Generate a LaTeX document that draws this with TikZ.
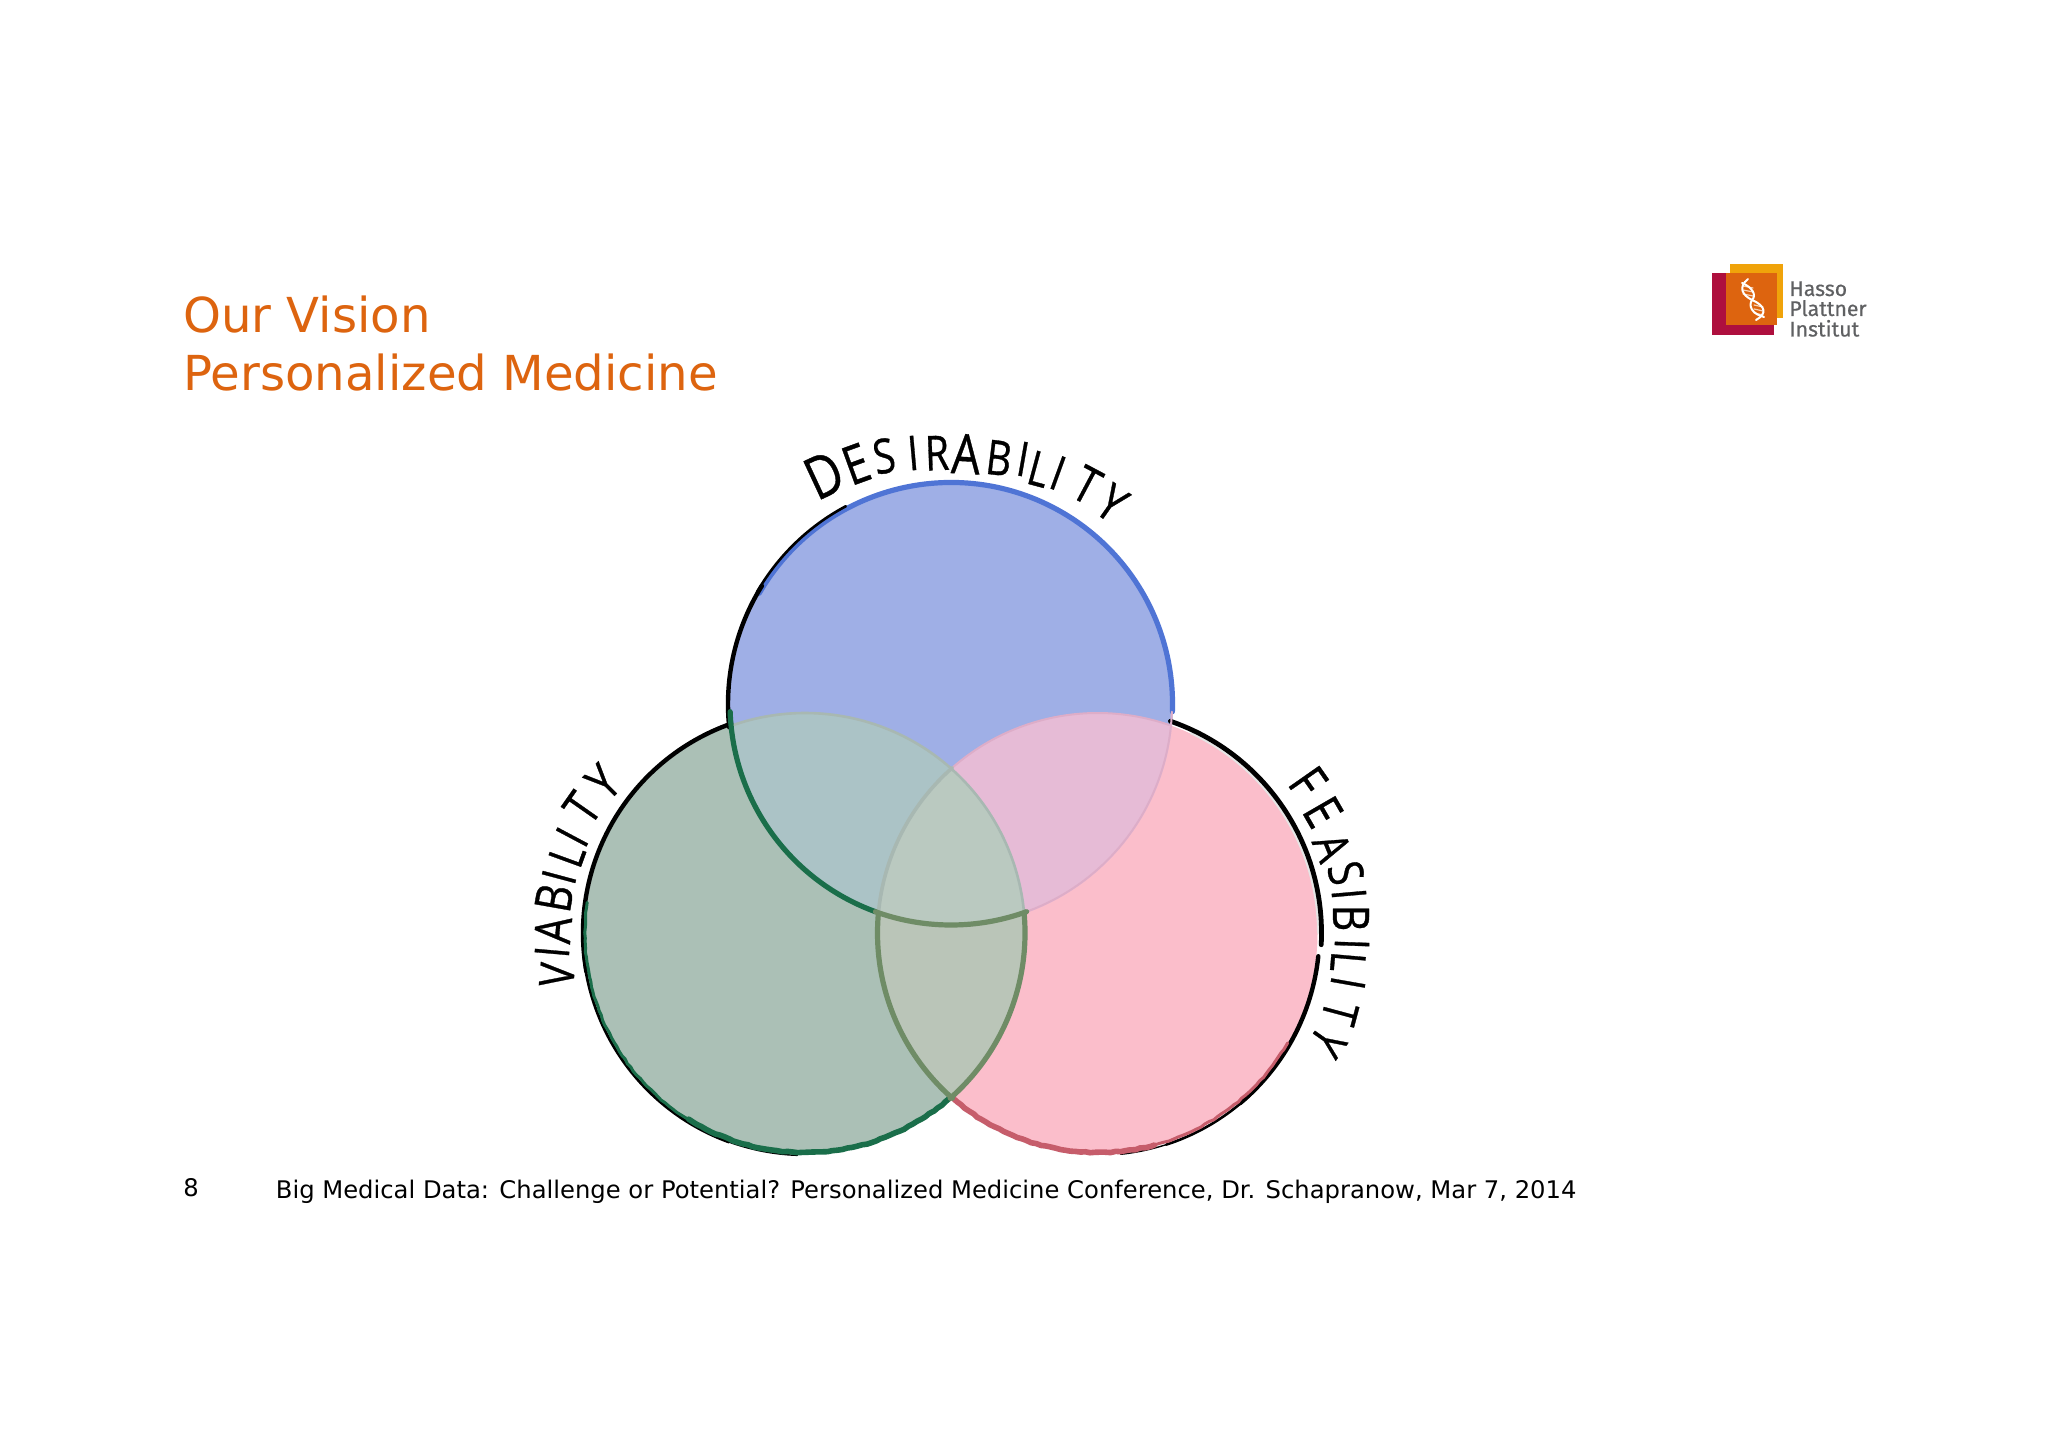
\documentclass[tikz,border=0pt]{standalone}
\usepackage{fontspec}
\usetikzlibrary{decorations.pathmorphing}
\setmainfont{DejaVu Sans}
\newfontfamily\handfont[FakeBold=0.7]{Open Sans}
\newfontfamily\logofont[FakeBold=0.5]{Fira Sans}
\definecolor{titleor}{HTML}{DD640F}
\definecolor{fillB}{HTML}{9FAFE6}
\definecolor{fillG}{HTML}{ABC0B6}
\definecolor{fillP}{HTML}{FBBECB}
\definecolor{fillBG}{HTML}{ABC3C6}
\definecolor{fillBP}{HTML}{E6BBD6}
\definecolor{fillGP}{HTML}{BAC5B8}
\definecolor{fillBGP}{HTML}{BAC9C0}
\definecolor{strokeB}{HTML}{4F74D5}
\definecolor{strokeG}{HTML}{1A6E4A}
\definecolor{strokeP}{HTML}{C65D6B}
\definecolor{olive}{HTML}{6F8C66}
\definecolor{softgray}{HTML}{A8B8B2}
\definecolor{softpink}{HTML}{DDADC8}
\definecolor{logogray}{HTML}{5F6062}
\definecolor{logoyellow}{HTML}{F0A30A}
\definecolor{logored}{HTML}{AE0F3E}
\definecolor{rungcol}{HTML}{F6D3B5}
\tikzset{
  x=0.5pt,y=0.5pt,
  titletext/.style={anchor=base west,inner sep=0pt,text=titleor,font=\fontsize{24.1}{28}\selectfont},
  foottext/.style={anchor=base west,inner sep=0pt,text=black,font=\fontsize{12.13}{14}\selectfont},
  hand/.style={xscale=0.82,inner sep=0pt,text=black,font=\handfont\fontsize{24}{26}\selectfont},
  logotext/.style={anchor=base west,inner sep=0pt,text=logogray,font=\logofont\fontsize{10.6}{12}\selectfont},
  ringedge/.style={line width=2.6pt,line cap=round},
  thinedge/.style={line width=1pt,line cap=round},
  rough/.style={decorate,decoration={random steps,segment length=2.5pt,amplitude=0.25pt}},
  helix/.style={draw=white,line width=1pt,line cap=round},
}
\newcommand{\carc}[5]{\draw[#1] ([shift={(#3:#5)}]#2) arc[start angle=#3,end angle=#4,radius=#5];}
\newcommand{\hw}[5]{\node[rotate=#4,hand] (#1) at ({#2},{1447-#3}) {#5};}
\pgfmathsetseed{7}
\begin{document}
\begin{tikzpicture}
\useasboundingbox (0,0) rectangle (2048,1447);
\fill[white] (0,0) rectangle (2048,1447);
\coordinate (cB) at (951,743);
\coordinate (cG) at (805,514);
\coordinate (cP) at (1097.5,514);
% fills
\fill[fillB] (cB) circle[radius=222];
\fill[fillG] (cG) circle[radius=220];
\fill[fillP] (cP) circle[radius=220];
\begin{scope}\clip (cB) circle[radius=222]; \fill[fillBG] (cG) circle[radius=220]; \fill[fillBP] (cP) circle[radius=220];\end{scope}
\begin{scope}\clip (cG) circle[radius=220]; \fill[fillGP] (cP) circle[radius=220];\end{scope}
\begin{scope}\clip (cB) circle[radius=222]; \clip (cG) circle[radius=220]; \fill[fillBGP] (cP) circle[radius=220];\end{scope}
% outer coloured edges, then black
\carc{ringedge,strokeB}{cB}{150}{-2}{221.5}
\carc{ringedge,black,line width=2.2pt}{cB}{186}{148}{223}
\carc{ringedge,black,line width=1.3pt}{cB}{150}{118}{224}
\carc{ringedge,black,line width=2.2pt}{cG}{109.4}{190}{222}
\carc{ringedge,black,line width=1.4pt}{cG}{185}{250}{222.5}
\carc{ringedge,black,line width=0.7pt}{cG}{245}{268}{222.5}
\carc{ringedge,strokeG,line width=1.5pt,rough}{cG}{172}{240}{220}
\carc{ringedge,strokeG,line width=2.8pt,rough}{cG}{238}{311}{219.5}
\carc{thinedge,black!10}{cP}{65}{0}{220.5}
\carc{ringedge,black,line width=2.4pt}{cP}{71}{-3}{224}
\carc{ringedge,black,line width=2.2pt}{cP}{-6}{-50}{222}
\carc{ringedge,black,line width=1.3pt}{cP}{-45}{-72}{222.5}
\carc{ringedge,black,line width=0.7pt}{cP}{-68}{-84}{222.5}
\carc{ringedge,strokeP,line width=2.8pt,rough}{cP}{229}{285}{219.5}
\carc{ringedge,strokeP,line width=1.5pt,rough}{cP}{285}{330}{219.5}
% inner edges
\carc{thinedge,softpink}{cB}{290}{358}{221}
\carc{thinedge,softpink}{cP}{71}{131.3}{220}
\carc{thinedge,softgray,line width=1.3pt}{cG}{109.4}{48.7}{220}
\carc{thinedge,softgray,line width=1.3pt}{cG}{48.7}{5}{220}
\carc{ringedge,softgray,line width=1.8pt}{cP}{131.3}{175}{220}
\carc{ringedge,olive}{cP}{175}{228.7}{220}
\carc{ringedge,olive}{cG}{5}{-48.7}{220}
\carc{ringedge,strokeG}{cB}{182}{250}{221}
\carc{ringedge,olive}{cB}{250}{290}{221}
% DESIRABILITY
\hw{d1}{824}{475}{25,scale=1.22}{D}
\hw{d2}{856}{464}{20,scale=1.12}{E}
\hw{d3}{884}{456}{10}{S}
\hw{d4}{913}{453}{5}{I}
\hw{d5}{937}{453}{2}{R}
\hw{d6}{966}{454}{-3,scale=1.15}{A}
\hw{d7}{999}{458}{-7}{B}
\hw{d8}{1023}{459}{-10}{I}
\hw{d9}{1039}{469}{-15}{L}
\hw{d10}{1058}{473}{-20}{I}
\hw{d11}{1087}{485}{-28,scale=1.05}{T}
\hw{d12}{1112}{503}{-35,scale=1.05}{Y}
% VIABILITY
\hw{v1}{557}{975}{85}{V}
\hw{v2}{552}{952}{85}{I}
\hw{v3}{553}{930}{85,scale=1.05}{A}
\hw{v4}{554}{898}{80,scale=1.05}{B}
\hw{v5}{559}{877}{75}{I}
\hw{v6}{567}{855}{70}{L}
\hw{v7}{572}{837}{62}{I}
\hw{v8}{582}{808}{55,scale=1.05}{T}
\hw{v9}{603}{782}{45,scale=1.05}{Y}
% FEASIBILITY
\hw{f1}{1308}{782}{-55,scale=1.08}{F}
\hw{f2}{1323}{812}{-60,scale=1.08}{E}
\hw{f3}{1332}{847}{-68}{A}
\hw{f4}{1346}{873}{-75}{S}
\hw{f5}{1349}{894}{-85}{I}
\hw{f6}{1351}{918}{-90,scale=1.05}{B}
\hw{f7}{1352}{944}{-92}{I}
\hw{f8}{1348}{962}{-95}{L}
\hw{f9}{1348}{983}{-100}{I}
\hw{f10}{1340}{1013}{-105}{T}
\hw{f11}{1328}{1042}{-125}{Y}
% title and footer
\node[titletext] (t1) at (183,1114) {Our Vision};
\node[titletext] (t2) at (183,1056) {Personalized Medicine};
\node[foottext] (pg) at (183,251) {8};
\node[foottext] (ft) at (275.5,249) {Big Medical Data: Challenge or Potential? Personalized Medicine Conference, Dr. Schapranow, Mar 7, 2014};
% logo
\fill[logoyellow] (1730,1129) rectangle (1783,1183);
\fill[logored] (1712,1112) rectangle (1774,1174);
\fill[titleor] (1726,1122) rectangle (1777,1174);
\foreach \yy in {1153,1157,1161}{\draw[helix,draw=rungcol,line width=0.6pt] (1743,\yy) -- (1753,\yy-2);}
\foreach \yy in {1134,1138,1142}{\draw[helix,draw=rungcol,line width=0.6pt] (1754,\yy) -- (1763,\yy-2);}
\draw[helix] (1748,1168) .. controls (1738,1160) and (1742,1152) .. (1752,1147) .. controls (1766,1141) and (1767,1133) .. (1756,1127);
\draw[helix] (1742,1164) .. controls (1752,1160) and (1757,1152) .. (1752,1147) .. controls (1748,1141) and (1752,1133) .. (1764,1130);
\node[logotext] (l1) at (1789,1151) {Hasso};
\node[logotext] (l2) at (1789,1131) {Plattner};
\node[logotext] (l3) at (1789,1110.5) {Institut};
\end{tikzpicture}
\end{document}
